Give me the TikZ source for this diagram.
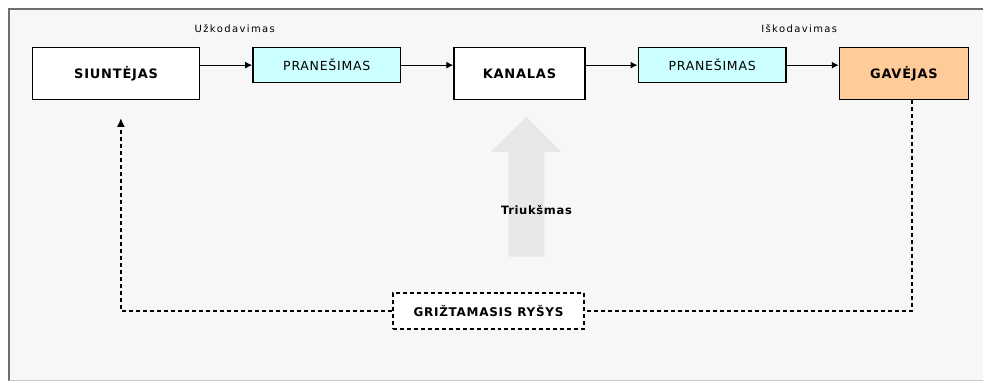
\documentclass[tikz,border=0pt]{standalone}
\usepackage{fontspec}
\setmainfont{DejaVu Sans}
\newfontfamily\boxfont[LetterSpace=6]{DejaVu Sans}
\newfontfamily\notefont[LetterSpace=14]{DejaVu Sans}
\usetikzlibrary{positioning}
\usetikzlibrary{arrows.meta}
\definecolor{mybg}{RGB}{247,247,247}
\definecolor{myframe}{RGB}{110,110,110}
\definecolor{mylightframe}{RGB}{200,200,200}
\definecolor{mycyan}{RGB}{204,255,255}
\definecolor{myorange}{RGB}{255,204,153}
\definecolor{mynoise}{RGB}{232,232,232}
\newcommand{\gapbox}{52bp}
\newcommand{\widthbig}{167bp}
\newcommand{\widthmsg}{148bp}
\tikzset{
    common/.style={draw, rectangle, line width=1.4bp, fill=white, font=\boxfont\fontsize{13bp}{15bp}\selectfont\bfseries},
    party/.style={common, minimum height=52bp},
    msg/.style={common, fill=mycyan, minimum height=35bp, minimum width=\widthmsg, font=\boxfont\fontsize{12.5bp}{15bp}\selectfont},
    note/.style={font=\notefont\fontsize{10bp}{12bp}\selectfont},
    flow/.style={-{Latex[length=7bp,width=7bp]}, line width=1.2bp},
    fbline/.style={line width=2bp, dash pattern=on 4bp off 3bp},
}

\begin{document}
\begin{tikzpicture}[x=1bp, y=-1bp]
    % frame
    \fill[white] (0,0) rectangle (984,383);
    \fill[mybg] (8,8) rectangle (984,381);
    \draw[myframe, line width=2bp] (9,381) -- (9,9) -- (984,9);
    \draw[mylightframe, line width=1.5bp] (9,381) -- (984,381);
    \useasboundingbox (0,0) rectangle (984,383);

    % chain of boxes
    \node[party, minimum width=\widthbig, anchor=north west] (snd) at (32,47) {SIUNTĖJAS};
    \node[msg, right=\gapbox of snd.north east, anchor=north west] (msgA) {PRANEŠIMAS};
    \node[party, minimum width=131bp, right=\gapbox of msgA.north east, anchor=north west] (chan) {KANALAS};
    \node[msg, right=\gapbox of chan.north east, anchor=north west] (msgB) {PRANEŠIMAS};
    \node[party, fill=myorange, minimum width=129bp, right=\gapbox of msgB.north east, anchor=north west] (rcv) {GAVĖJAS};

    \draw[flow] (snd.east |- msgA.west) -- (msgA.west);
    \draw[flow] (msgA.east) -- (msgA.east -| chan.west);
    \draw[flow] (chan.east |- msgB.west) -- (msgB.west);
    \draw[flow] (msgB.east) -- (msgB.east -| rcv.west);

    \node[note] (enc) at (235,29) {Užkodavimas};
    \node[note] (dec) at (800,29) {Iškodavimas};

    % noise
    \fill[mynoise] (509,257) -- (509,152) -- (491,152) -- (527,117) -- (562,152) -- (545,152) -- (545,257) -- cycle;
    \node[font=\boxfont\fontsize{11.5bp}{13bp}\selectfont\bfseries] (noise) at (537,210) {Triukšmas};

    % feedback
    \node[common, fbline, minimum width=192bp, minimum height=36bp, font=\boxfont\fontsize{12bp}{14bp}\selectfont\bfseries] (fb) at (489,311) {GRIŽTAMASIS RYŠYS};
    \coordinate (rcvfoot) at (913,100);
    \coordinate (sndfoot) at (121,118);
    \draw[fbline] (rcvfoot) |- (fb.east);
    \draw[fbline, -{Latex[length=9bp,width=8bp]}] (fb.west) -| (sndfoot);
\end{tikzpicture}
\end{document}
